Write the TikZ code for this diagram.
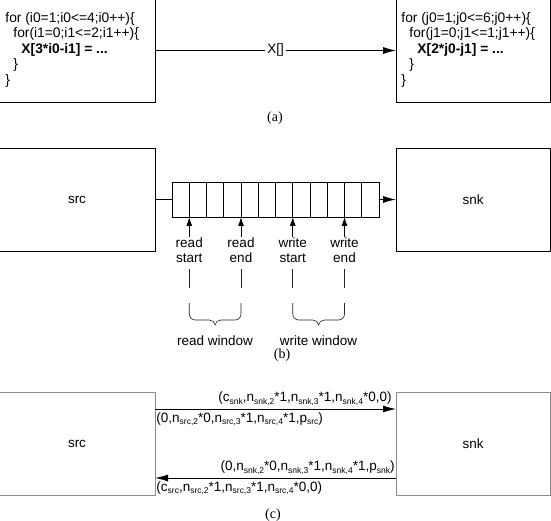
\documentclass[tikz,border=0pt]{standalone}
\usepackage{fontspec}
\setmainfont{Liberation Sans}
\newfontfamily\capfont{Liberation Serif}
\usetikzlibrary{arrows.meta,calc}
\newcommand\sbs[1]{\raisebox{-2.5pt}{\fontsize{8.5}{8.5}\selectfont #1}}
\newcommand\ind{\hspace*{8pt}}
\tikzset{
  every node/.style={font=\fontsize{13.5}{15.5}\selectfont},
  box/.style={draw, anchor=north west, inner sep=0pt, outer sep=0pt,
    minimum height=103pt},
  graybox/.style={box, draw=black!45},
  code/.style={anchor=north west, inner sep=0pt, align=left,
    font=\fontsize{13.8}{15.5}\selectfont},
  arr/.style={-{Latex[length=13pt,width=7pt]}},
  smallarr/.style={-{Latex[length=9pt,width=6pt]}},
  lbl/.style={inner sep=0pt, align=center, font=\fontsize{13.5}{15}\selectfont},
  thinline/.style={line width=0.6pt, black!85},
  captxt/.style={inner sep=0pt, font=\capfont\fontsize{14}{16}\selectfont},
  clabel/.style={inner sep=0pt, font=\fontsize{13.5}{15}\selectfont}
}
\begin{document}
\begin{tikzpicture}[x=1pt,y=-1pt,line width=0.9pt]
\useasboundingbox (0,0) rectangle (551,521);

% ---------- (a)
\node[box, minimum width=156pt] (a1) at (-1,-1) {};
\node[box, minimum width=154pt] (a2) at (396,-1) {};
\node[code] (c1) at (5,12) {for (i0=1;i0<=4;i0++)\{\\
\ind for(i1=0;i1<=2;i1++)\{\\
\ind\ind\textbf{X[3*i0-i1] = ...}\\
\ind \}\\
\}};
\node[code] (c2) at (401,12) {for (j0=1;j0<=6;j0++)\{\\
\ind for(j1=0;j1<=1;j1++)\{\\
\ind\ind\textbf{X[2*j0-j1] = ...}\\
\ind \}\\
\}};
\draw[arr] (a1) -- node[fill=white, inner sep=2pt] {X[]} (a2);
\node[captxt] (capa) at (275,118) {(a)};

% ---------- (b)
\node[box, minimum width=156pt] (src) at (-1,148) {src};
\node[box, minimum width=154pt] (snk) at (396,148) {snk};
\node[box, minimum width=207pt, minimum height=35pt] (buf) at (172,182) {};
\foreach \i in {1,...,11}
  \draw (buf.north west) ++(\i*17.25,0) -- ++(0,35);
\draw (src.east |- buf.west) -- (buf.west);
\draw[arr] (buf.east) -- (buf.east -| snk.west);

\node[lbl, anchor=north] (rs) at (189.25,237) {read\\start};
\node[lbl, anchor=north] (re) at (241,237) {read\\end};
\node[lbl, anchor=north] (ws) at (292.75,237) {write\\start};
\node[lbl, anchor=north] (we) at (344.5,237) {write\\end};
\foreach \n in {rs,re,ws,we} {
  \draw[smallarr] (\n.north) -- (\n.north |- buf.south);
  \draw[thinline] ([yshift=-6pt]\n.south) -- ++(0,19);
}
\coordinate (b1) at (189.25,303);
\coordinate (b2) at (241,303);
\coordinate (b3) at (292.75,303);
\coordinate (b4) at (344.5,303);
\draw[thinline] (b1) -- ++(0,11) to[out=-90,in=180] ++(6,6) -- (209.1,320)
  to[out=0,in=90] (215.1,325) to[out=90,in=180] (221.1,320) -- (235,320)
  to[out=0,in=-90] ($(b2)+(0,11)$) -- (b2);
\draw[thinline] (b3) -- ++(0,11) to[out=-90,in=180] ++(6,6) -- (312.6,320)
  to[out=0,in=90] (318.6,325) to[out=90,in=180] (324.6,320) -- (338.5,320)
  to[out=0,in=-90] ($(b4)+(0,11)$) -- (b4);
\node[lbl] (rw) at (215.1,341) {read window};
\node[lbl] (ww) at (318.6,341) {write window};
\node[captxt] (capb) at (282,355) {(b)};

% ---------- (c)
\node[graybox, minimum width=156pt] (csrc) at (-1,392) {src};
\node[graybox, minimum width=154pt] (csnk) at (396,392) {snk};
\draw[arr] ([yshift=34.5pt]csrc.east) -- ([yshift=34.5pt]csnk.west)
  node[clabel, pos=1, anchor=south east, xshift=-4pt, yshift=3pt]
   {(c\sbs{snk},n\sbs{snk,2}*1,n\sbs{snk,3}*1,n\sbs{snk,4}*0,0)}
  node[clabel, pos=0, anchor=north west, xshift=1pt, yshift=-3pt]
   {(0,n\sbs{src,2}*0,n\sbs{src,3}*1,n\sbs{src,4}*1,p\sbs{src})};
\draw[arr] ([yshift=-34.5pt]csnk.west) -- ([yshift=-34.5pt]csrc.east)
  node[clabel, pos=0, anchor=south east, xshift=-1pt, yshift=3pt]
   {(0,n\sbs{snk,2}*0,n\sbs{snk,3}*1,n\sbs{snk,4}*1,p\sbs{snk})}
  node[clabel, pos=1, anchor=north west, xshift=1pt, yshift=-3pt]
   {(c\sbs{src},n\sbs{src,2}*1,n\sbs{src,3}*1,n\sbs{src,4}*0,0)};
\node[captxt] (capc) at (273,515) {(c)};
\end{tikzpicture}
\end{document}
